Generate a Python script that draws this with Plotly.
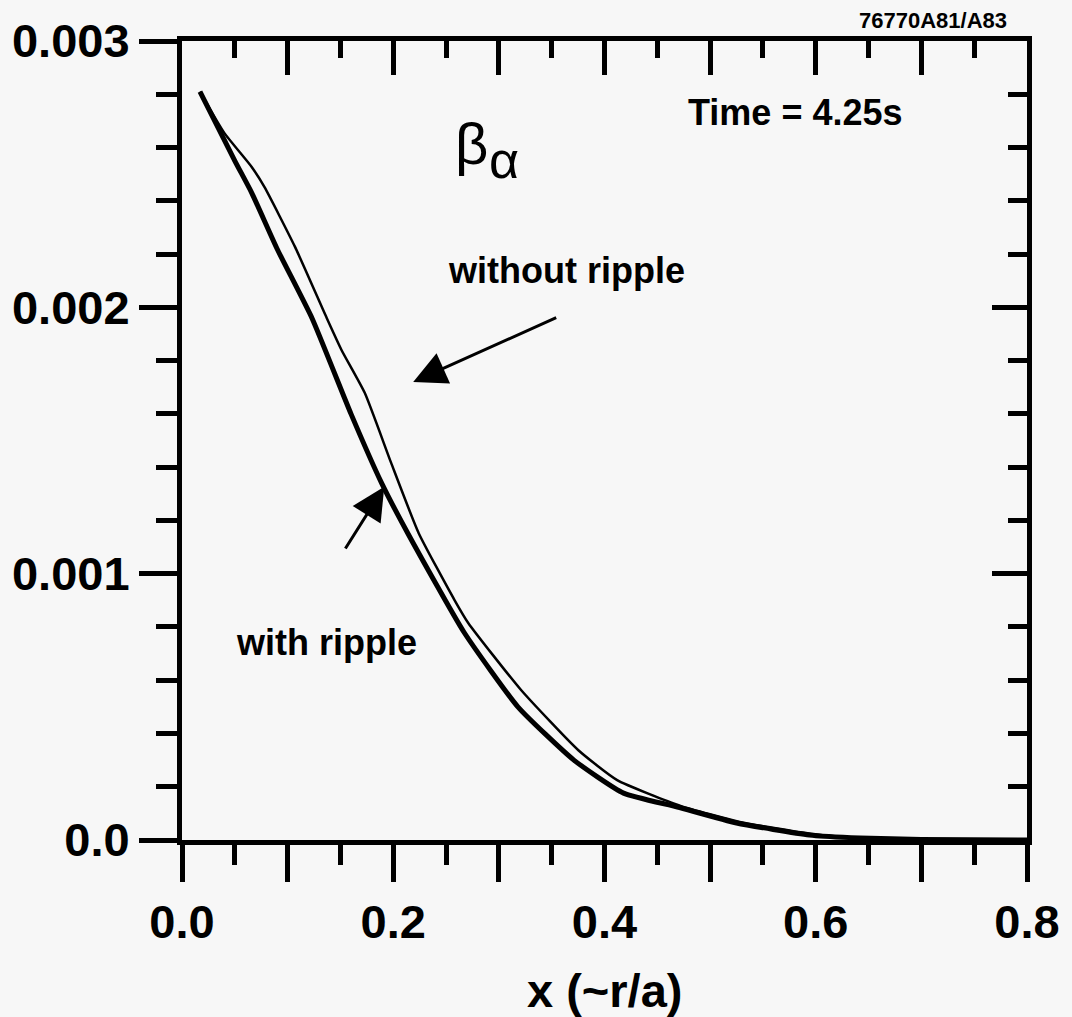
import plotly.graph_objects as go

# ---- data ----
x_with = [0.017, 0.050, 0.066, 0.090, 0.123, 0.160, 0.189, 0.214, 0.267, 0.318,
          0.371, 0.418, 0.469, 0.525, 0.594, 0.642, 0.700, 0.800]
y_with = [0.00281, 0.00255, 0.00243, 0.00222, 0.00196, 0.00160, 0.00134, 0.00115,
          0.00078, 0.00050, 0.00030, 0.000176, 0.000124, 0.000064, 0.000019,
          0.0000075, 0.000002, 0.0]

x_without = [0.017, 0.040, 0.066, 0.078, 0.107, 0.137, 0.151, 0.173, 0.198, 0.224,
             0.258, 0.271, 0.321, 0.375, 0.412, 0.472, 0.528, 0.596, 0.642, 0.700, 0.800]
y_without = [0.00281, 0.002655, 0.002527, 0.002452, 0.002227, 0.00196, 0.00184,
             0.001679, 0.001416, 0.001153, 0.000901, 0.000815, 0.000563, 0.000338,
             0.000225, 0.000128, 0.000068, 0.000023, 0.0000075, 0.000002, 0.0]

x_tick_vals = [0.0, 0.1, 0.2, 0.3, 0.4, 0.5, 0.6, 0.7, 0.8]
x_tick_text = ["0.0", "", "0.2", "", "0.4", "", "0.6", "", "0.8"]
y_tick_vals = [0.0, 0.001, 0.002, 0.003]
y_tick_text = ["0.0", "0.001", "0.002", "0.003"]

FONT = "Liberation Sans, Arial, Helvetica, sans-serif"
BG = "#f7f7f7"

fig = go.Figure()
fig.add_trace(go.Scatter(x=x_without, y=y_without, mode="lines",
                         line=dict(color="black", width=2.5, shape="spline", smoothing=0.5),
                         showlegend=False, name="without ripple"))
fig.add_trace(go.Scatter(x=x_with, y=y_with, mode="lines",
                         line=dict(color="black", width=5, shape="spline", smoothing=0.5),
                         showlegend=False, name="with ripple"))
# invisible trace so that the mirrored (top/right) axes are drawn
fig.add_trace(go.Scatter(x=[0.4], y=[0.0015], xaxis="x2", yaxis="y2", mode="markers",
                         marker=dict(opacity=0), showlegend=False, hoverinfo="skip"))

tickfont = dict(family=FONT, size=47, color="black", weight="bold")
TW = 5

fig.update_layout(
    width=1072, height=1017,
    margin=dict(l=180, r=44, t=41, b=177),
    paper_bgcolor=BG, plot_bgcolor=BG,
    showlegend=False,
    xaxis=dict(range=[0, 0.8], tickmode="array", tickvals=x_tick_vals, ticktext=x_tick_text,
               ticks="outside", ticklen=37, tickwidth=TW, tickcolor="black",
               showline=True, linewidth=5, linecolor="black",
               showgrid=False, zeroline=False, tickfont=tickfont,
               minor=dict(dtick=0.05, tick0=0, ticks="outside", ticklen=20, tickwidth=TW,
                          tickcolor="black", showgrid=False)),
    yaxis=dict(range=[0, 0.003], tickmode="array", tickvals=y_tick_vals, ticktext=y_tick_text,
               ticks="outside", ticklen=38, tickwidth=TW, tickcolor="black",
               showline=True, linewidth=5, linecolor="black",
               showgrid=False, zeroline=False, tickfont=tickfont,
               minor=dict(dtick=0.0002, tick0=0, ticks="outside", ticklen=21, tickwidth=TW,
                          tickcolor="black", showgrid=False)),
    xaxis2=dict(range=[0, 0.8], overlaying="x", side="top", anchor="y",
                tickmode="array", tickvals=x_tick_vals, showticklabels=False,
                ticks="inside", ticklen=34, tickwidth=TW, tickcolor="black",
                showline=True, linewidth=5, linecolor="black",
                showgrid=False, zeroline=False,
                minor=dict(dtick=0.05, tick0=0, ticks="inside", ticklen=17, tickwidth=TW,
                           tickcolor="black", showgrid=False)),
    yaxis2=dict(range=[0, 0.003], overlaying="y", side="right", anchor="x",
                tickmode="array", tickvals=y_tick_vals, showticklabels=False,
                ticks="inside", ticklen=35, tickwidth=TW, tickcolor="black",
                showline=True, linewidth=5, linecolor="black",
                showgrid=False, zeroline=False,
                minor=dict(dtick=0.0002, tick0=0, ticks="inside", ticklen=19, tickwidth=TW,
                           tickcolor="black", showgrid=False)),
)

lab = dict(family=FONT, size=36, color="black", weight="bold")
annotations = [
    dict(x=0.581, y=0.00273, xref="x", yref="y", text="Time = 4.25s",
         showarrow=False, font=lab, xanchor="center", yanchor="middle"),
    dict(x=0.364, y=0.00214, xref="x", yref="y", text="without ripple",
         showarrow=False, font=lab, xanchor="center", yanchor="middle"),
    dict(x=0.1368, y=0.00074, xref="x", yref="y", text="with ripple",
         showarrow=False, font=lab, xanchor="center", yanchor="middle"),
    dict(x=0.2745, y=0.002617, xref="x", yref="y", text="β",
         showarrow=False, font=dict(family=FONT, size=58, color="black"),
         xanchor="center", yanchor="middle"),
    dict(x=0.3047, y=0.002553, xref="x", yref="y", text="α",
         showarrow=False, font=dict(family=FONT, size=52, color="black"),
         xanchor="center", yanchor="middle"),
    dict(x=0.889, y=1.026, xref="paper", yref="paper", text="76770A81/A83",
         showarrow=False, font=dict(family=FONT, size=22, color="black", weight="bold"),
         xanchor="center", yanchor="middle"),
    dict(x=0.5, y=-0.188, xref="paper", yref="paper", text="x (~r/a)",
         showarrow=False, font=dict(family=FONT, size=47, color="black", weight="bold"),
         xanchor="center", yanchor="middle"),
    # arrows
    dict(x=0.2189, y=0.00172, ax=0.3557, ay=0.001964, xref="x", yref="y",
         axref="x", ayref="y", text="", showarrow=True, arrowhead=2,
         arrowsize=2.2, arrowwidth=3, arrowcolor="black", standoff=0, startstandoff=0),
    dict(x=0.1915, y=0.001326, ax=0.1538, ay=0.001089, xref="x", yref="y",
         axref="x", ayref="y", text="", showarrow=True, arrowhead=2,
         arrowsize=2.2, arrowwidth=3, arrowcolor="black", standoff=0, startstandoff=0),
]
fig.update_layout(annotations=annotations)

fig.write_html("out.html")
